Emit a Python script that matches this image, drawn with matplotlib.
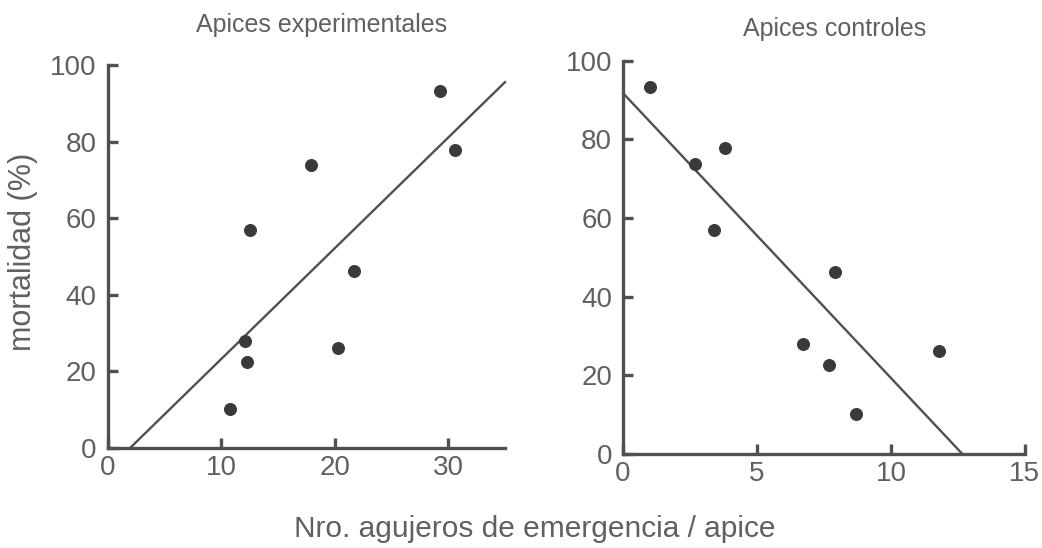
import matplotlib
matplotlib.use("Agg")
import matplotlib.pyplot as plt

plt.rcParams['font.family'] = ['Liberation Sans', 'DejaVu Sans']

# mortalidad (%) para cada apice, igual en ambos paneles
mortalidad = [10.2, 28.0, 22.5, 57.0, 73.8, 26.2, 46.2, 93.3, 77.9]
# nro. agujeros de emergencia / apice
agujeros_exp = [10.8, 12.1, 12.3, 12.5, 17.9, 20.3, 21.7, 29.3, 30.6]
agujeros_ctrl = [8.7, 6.7, 7.7, 3.4, 2.7, 11.8, 7.9, 1.0, 3.8]

# rectas de regresion (extremos)
recta_exp_x = [1.95, 35.0]
recta_exp_y = [0, 95.5]
recta_ctrl_x = [0, 12.67]
recta_ctrl_y = [91.7, 0]

texto = '#606060'
eje = '#505050'
punto = '#3a3a3a'

fig = plt.figure(figsize=(10.42, 5.48), dpi=100)
ax1 = fig.add_axes([0.1036, 0.1825, 0.381, 0.699])
ax2 = fig.add_axes([0.598, 0.1715, 0.3855, 0.718])


def estilo(ax, xmax, xticks):
    ax.set_xlim(0, xmax)
    ax.set_ylim(0, 100)
    ax.set_xticks(xticks)
    ax.set_yticks([0, 20, 40, 60, 80, 100])
    for s in ['top', 'right']:
        ax.spines[s].set_visible(False)
    for s in ['left', 'bottom']:
        ax.spines[s].set_linewidth(2.4)
        ax.spines[s].set_color(eje)
    ax.tick_params(direction='in', length=7, width=2.4, color=eje,
                   labelsize=20, labelcolor=texto)
    ax.tick_params(axis='y', pad=8)
    ax.tick_params(axis='x', pad=5)
    ax.patch.set_alpha(0)


estilo(ax1, 35, [0, 10, 20, 30])
ax1.plot(recta_exp_x, recta_exp_y, color=eje, lw=1.7, clip_on=False)
ax1.scatter(agujeros_exp, mortalidad, s=70, color=punto, zorder=3)
ax1.set_title('Apices experimentales', fontsize=18, color=texto, pad=24,
              x=0.537)

estilo(ax2, 15, [0, 5, 10, 15])
ax2.plot(recta_ctrl_x, recta_ctrl_y, color=eje, lw=1.7, clip_on=False)
ax2.scatter(agujeros_ctrl, mortalidad, s=70, color=punto, zorder=3)
ax2.set_title('Apices controles', fontsize=18, color=texto, pad=18,
              x=0.527)

fig.text(0.022, 0.54, 'mortalidad (%)', fontsize=22, color=texto,
         rotation=90, ha='center', va='center')
fig.text(0.513, 0.035, 'Nro. agujeros de emergencia / apice',
         fontsize=21.5, color=texto, ha='center', va='center')

fig.savefig('out.png', dpi=100)
